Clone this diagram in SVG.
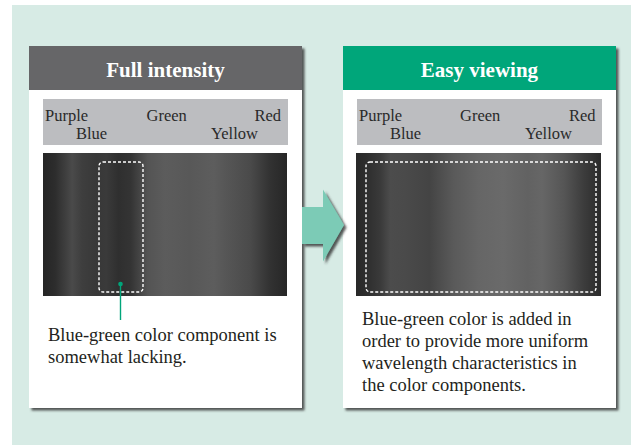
<svg xmlns="http://www.w3.org/2000/svg" width="631" height="445" viewBox="0 0 631 445">
  <style>
    .panel { fill: #ffffff; filter: url(#shadow); }
    .hdr-text { font-family: "Liberation Serif", "Times New Roman", serif; font-weight: bold; font-size: 21px; fill: #ffffff; text-anchor: middle; }
    .lbl-bar { fill: #bcbdc0; }
    .lbl { font-family: "Liberation Serif", "Times New Roman", serif; font-size: 16.5px; fill: #2a2a2a; }
    .body { font-family: "Liberation Serif", "Times New Roman", serif; font-size: 18.5px; fill: #231f20; }
    .dash { fill: none; stroke: #ffffff; stroke-width: 1.4; stroke-dasharray: 3 2; }
    .leader { stroke: #00a57a; stroke-width: 1.4; fill: none; }
  </style>
  <defs>
    <filter id="shadow" x="-5%" y="-5%" width="115%" height="115%">
      <feDropShadow dx="2.5" dy="2.5" stdDeviation="0.8" flood-color="#333333" flood-opacity="0.8"/>
    </filter>
    <linearGradient id="specA" x1="0" y1="0" x2="1" y2="0">
      <stop offset="0" stop-color="#252525"/>
      <stop offset="0.05" stop-color="#2d2d2d"/>
      <stop offset="0.12" stop-color="#4a4a4a"/>
      <stop offset="0.16" stop-color="#3e3e3e"/>
      <stop offset="0.22" stop-color="#383838"/>
      <stop offset="0.26" stop-color="#3a3a3a"/>
      <stop offset="0.31" stop-color="#2f2f2f"/>
      <stop offset="0.36" stop-color="#343434"/>
      <stop offset="0.43" stop-color="#545454"/>
      <stop offset="0.5" stop-color="#5c5c5c"/>
      <stop offset="0.6" stop-color="#585858"/>
      <stop offset="0.7" stop-color="#5d5d5d"/>
      <stop offset="0.75" stop-color="#565656"/>
      <stop offset="0.85" stop-color="#4a4a4a"/>
      <stop offset="0.93" stop-color="#323232"/>
      <stop offset="1" stop-color="#262626"/>
    </linearGradient>
    <linearGradient id="specB" x1="0" y1="0" x2="1" y2="0">
      <stop offset="0" stop-color="#282828"/>
      <stop offset="0.04" stop-color="#2d2d2d"/>
      <stop offset="0.1" stop-color="#3a3a3a"/>
      <stop offset="0.14" stop-color="#4c4c4c"/>
      <stop offset="0.2" stop-color="#4a4a4a"/>
      <stop offset="0.3" stop-color="#444444"/>
      <stop offset="0.4" stop-color="#5a5a5a"/>
      <stop offset="0.5" stop-color="#666666"/>
      <stop offset="0.6" stop-color="#6a6a6a"/>
      <stop offset="0.7" stop-color="#626262"/>
      <stop offset="0.76" stop-color="#666666"/>
      <stop offset="0.85" stop-color="#555555"/>
      <stop offset="0.93" stop-color="#3c3c3c"/>
      <stop offset="1" stop-color="#2a2a2a"/>
    </linearGradient>
  </defs>

  <rect id="background" x="12" y="5" width="619" height="440" fill="#d7ebe5"/>

  <g id="panel-full">
    <rect class="panel" x="29" y="46" width="273" height="362"/>
    <rect x="29" y="46" width="273" height="44" fill="#666668"/>
    <text class="hdr-text" x="165.5" y="77">Full intensity</text>
    <rect class="lbl-bar" x="43" y="99" width="245" height="46"/>
    <text class="lbl" x="45" y="121">Purple</text>
    <text class="lbl" x="146.5" y="121">Green</text>
    <text class="lbl" x="281" y="121" text-anchor="end">Red</text>
    <text class="lbl" x="76" y="138.5">Blue</text>
    <text class="lbl" x="211" y="138.5">Yellow</text>
    <rect x="43" y="153" width="244" height="143" fill="url(#specA)"/>
    <rect class="dash" x="99" y="162" width="44" height="130" rx="4"/>
    <text class="body" x="48" y="341">Blue-green color component is</text>
    <text class="body" x="48" y="363">somewhat lacking.</text>
  </g>

  <g id="panel-easy">
    <rect class="panel" x="343" y="46" width="273" height="362"/>
    <rect x="343" y="46" width="273" height="44" fill="#00a67a"/>
    <text class="hdr-text" x="479.5" y="77">Easy viewing</text>
    <rect class="lbl-bar" x="357" y="99" width="245" height="46"/>
    <text class="lbl" x="359" y="121">Purple</text>
    <text class="lbl" x="460" y="121">Green</text>
    <text class="lbl" x="595.5" y="121" text-anchor="end">Red</text>
    <text class="lbl" x="390" y="138.5">Blue</text>
    <text class="lbl" x="525" y="138.5">Yellow</text>
    <rect x="356" y="153" width="245" height="143" fill="url(#specB)"/>
    <rect class="dash" x="366" y="162" width="230" height="130" rx="4"/>
    <text class="body" x="362" y="325">Blue-green color is added in</text>
    <text class="body" x="362" y="347">order to provide more uniform</text>
    <text class="body" x="362" y="369">wavelength characteristics in</text>
    <text class="body" x="362" y="391">the color components.</text>
  </g>

  <g id="connectors">
    <path id="arrow" d="M302,207 L323,207 L323,189.5 L344,225 L323,261.5 L323,244 L302,244 Z" fill="#7ccbb6" filter="url(#shadow)"/>
    <line class="leader" x1="120.5" y1="284" x2="120.5" y2="320"/>
    <circle cx="120.5" cy="284" r="2.3" fill="#00a57a"/>
  </g>
</svg>
